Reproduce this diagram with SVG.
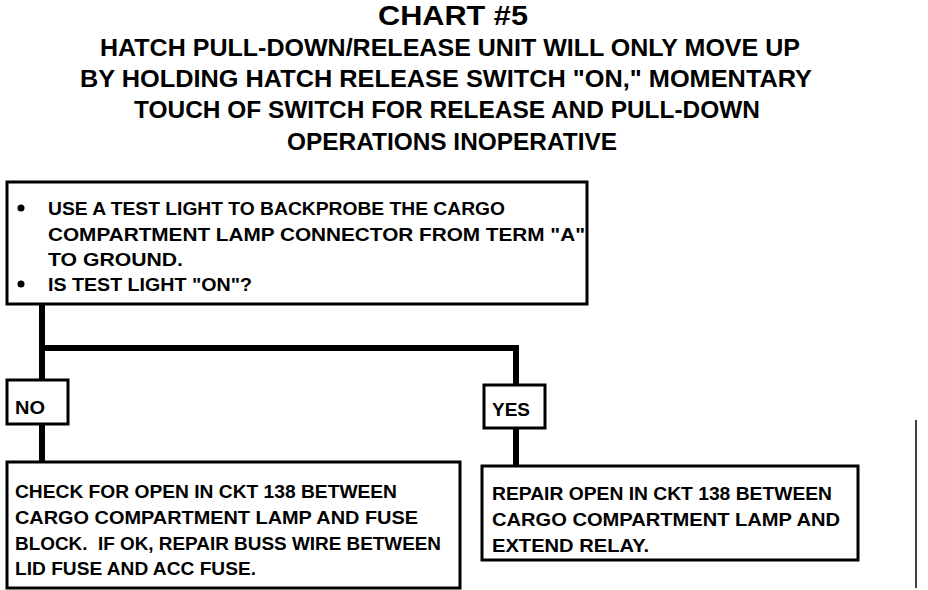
<svg xmlns="http://www.w3.org/2000/svg" width="928" height="590" viewBox="0 0 928 590">
<style>
text{font-family:"Liberation Sans",Arial,sans-serif;font-weight:bold;fill:#000}
.t{font-size:27px}
.s{font-size:23px}
.b{font-size:19px}
.box{fill:#fff;stroke:#000;stroke-width:3}
.c{stroke:#000;stroke-width:6;fill:none}
</style>
<rect width="928" height="590" fill="#fff"/>
<g id="title">
<text class="t" x="378" y="25" textLength="150" lengthAdjust="spacingAndGlyphs">CHART #5</text>
<text class="s" x="100" y="56" textLength="700" lengthAdjust="spacingAndGlyphs">HATCH PULL-DOWN/RELEASE UNIT WILL ONLY MOVE UP</text>
<text class="s" x="80" y="87" textLength="732" lengthAdjust="spacingAndGlyphs">BY HOLDING HATCH RELEASE SWITCH "ON," MOMENTARY</text>
<text class="s" x="134" y="118" textLength="626" lengthAdjust="spacingAndGlyphs">TOUCH OF SWITCH FOR RELEASE AND PULL-DOWN</text>
<text class="s" x="287" y="150" textLength="330" lengthAdjust="spacingAndGlyphs">OPERATIONS INOPERATIVE</text>
</g>
<g id="connectors">
<polyline class="c" points="42,304 42,380"/>
<polyline class="c" points="42,424 42,462"/>
<polyline class="c" points="39,348 519,348"/>
<polyline class="c" points="516,345 516,385"/>
<polyline class="c" points="516,428 516,466"/>
</g>
<g id="test">
<rect class="box" x="7" y="182" width="580" height="122"/>
<circle cx="21" cy="208" r="3.5"/>
<circle cx="21" cy="284" r="3.5"/>
<text class="b" x="48" y="215" textLength="457" lengthAdjust="spacingAndGlyphs">USE A TEST LIGHT TO BACKPROBE THE CARGO</text>
<text class="b" x="48" y="241" textLength="537" lengthAdjust="spacingAndGlyphs">COMPARTMENT LAMP CONNECTOR FROM TERM "A"</text>
<text class="b" x="48" y="266" textLength="135" lengthAdjust="spacingAndGlyphs">TO GROUND.</text>
<text class="b" x="48" y="291" textLength="204" lengthAdjust="spacingAndGlyphs">IS TEST LIGHT "ON"?</text>
</g>
<g id="no">
<rect class="box" x="7" y="380" width="61" height="44"/>
<text class="b" x="15" y="414" textLength="30" lengthAdjust="spacingAndGlyphs">NO</text>
</g>
<g id="yes">
<rect class="box" x="484" y="385" width="61" height="43"/>
<text class="b" x="492" y="416" textLength="38" lengthAdjust="spacingAndGlyphs">YES</text>
</g>
<g id="check">
<rect class="box" x="7" y="462" width="453" height="126"/>
<text class="b" x="15" y="498" textLength="382" lengthAdjust="spacingAndGlyphs">CHECK FOR OPEN IN CKT 138 BETWEEN</text>
<text class="b" x="15" y="524" textLength="403" lengthAdjust="spacingAndGlyphs">CARGO COMPARTMENT LAMP AND FUSE</text>
<text class="b" x="15" y="550" textLength="426" lengthAdjust="spacingAndGlyphs" style="white-space:pre">BLOCK.  IF OK, REPAIR BUSS WIRE BETWEEN</text>
<text class="b" x="15" y="575" textLength="241" lengthAdjust="spacingAndGlyphs">LID FUSE AND ACC FUSE.</text>
</g>
<g id="repair">
<rect class="box" x="482" y="466" width="376" height="94"/>
<text class="b" x="492" y="500" textLength="340" lengthAdjust="spacingAndGlyphs">REPAIR OPEN IN CKT 138 BETWEEN</text>
<text class="b" x="492" y="526" textLength="348" lengthAdjust="spacingAndGlyphs">CARGO COMPARTMENT LAMP AND</text>
<text class="b" x="492" y="552" textLength="157" lengthAdjust="spacingAndGlyphs">EXTEND RELAY.</text>
</g>
<line x1="916" y1="420" x2="916" y2="588" stroke="#000" stroke-width="1.5"/>
</svg>
